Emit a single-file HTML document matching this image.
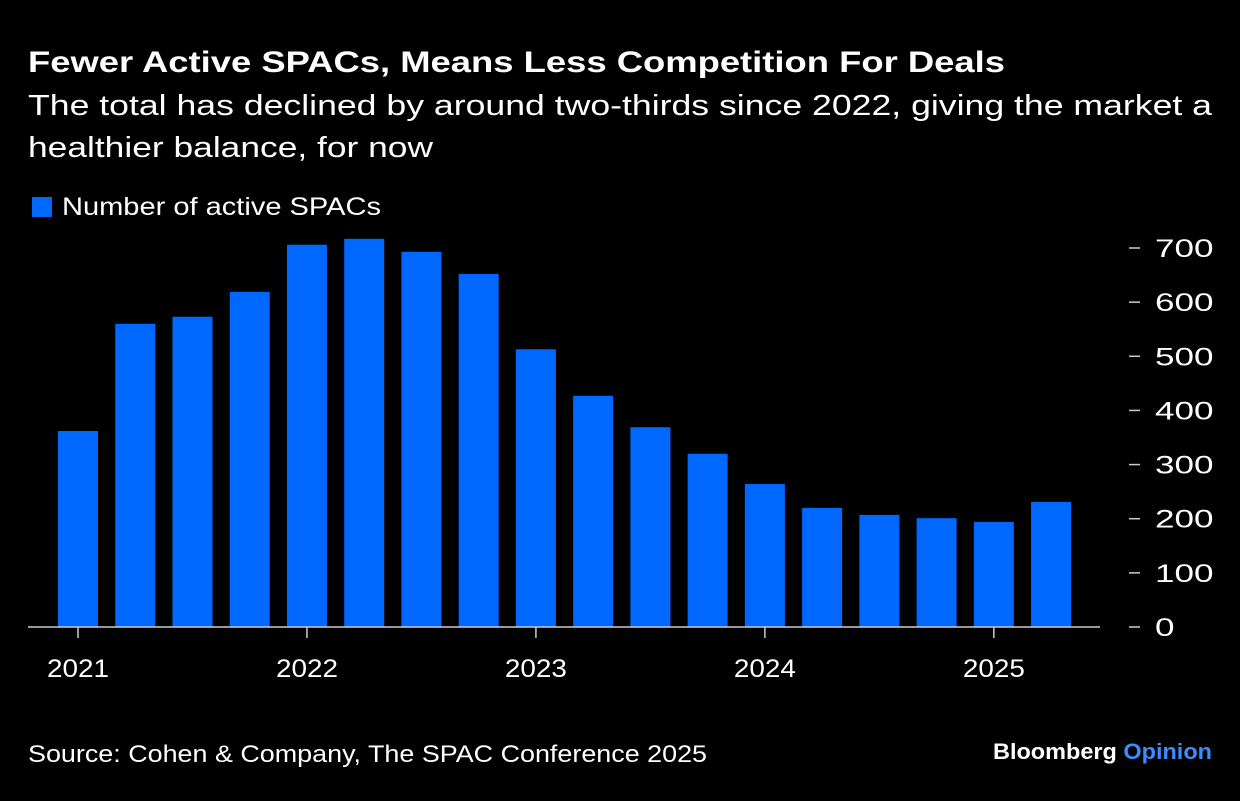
<!DOCTYPE html>
<html><head><meta charset="utf-8"><style>
body{margin:0;background:#000;width:1240px;height:796px;overflow:hidden;font-family:"Liberation Sans",Arial,sans-serif;color:#fff}
svg text{font-family:"Liberation Sans",Arial,sans-serif;fill:#fff}
</style></head><body>
<svg width="1240" height="796">
<text x="28" y="72" font-size="30" font-weight="bold" textLength="977" lengthAdjust="spacingAndGlyphs">Fewer Active SPACs, Means Less Competition For Deals</text>
<text x="28" y="115" font-size="29" textLength="1184" lengthAdjust="spacingAndGlyphs">The total has declined by around two-thirds since 2022, giving the market a</text>
<text x="28" y="157" font-size="29" textLength="405" lengthAdjust="spacingAndGlyphs">healthier balance, for now</text>
<rect x="32" y="197" width="20" height="20" fill="#0068ff"/>
<text x="62" y="215" font-size="25" textLength="319" lengthAdjust="spacingAndGlyphs">Number of active SPACs</text>
<g id="bars"></g>
<line x1="28" y1="627" x2="1100" y2="627" stroke="#ccc" stroke-width="1.5"/>
<g id="xt"></g><g id="yt"></g>
<text x="28" y="762" font-size="24" textLength="679" lengthAdjust="spacingAndGlyphs">Source: Cohen &amp; Company, The SPAC Conference 2025</text>
<text x="993" y="759" font-size="22" font-weight="bold" textLength="219" lengthAdjust="spacingAndGlyphs">Bloomberg <tspan fill="#3b8cff">Opinion</tspan></text>
</svg>
<script>
const values=[362,560,573,619,706,717,693,652,513,427,369,320,264,220,207,201,194,231];
const yTicks=[0,100,200,300,400,500,600,700];
const yearLabels=["2021","2022","2023","2024","2025"];
const NS="http://www.w3.org/2000/svg";
const y0=627,pxPer=379/700,x0=78,step=57.24,bw=40;
const ys=v=>y0-v*pxPer, xs=i=>x0+i*step;
const bars=document.getElementById('bars');
values.forEach((v,i)=>{const r=document.createElementNS(NS,'rect');
r.setAttribute('x',xs(i)-bw/2);r.setAttribute('y',ys(v));r.setAttribute('width',bw);r.setAttribute('height',y0-ys(v));r.setAttribute('fill','#0068ff');


bars.appendChild(r);});
const yt=document.getElementById('yt');
yTicks.forEach(t=>{const l=document.createElementNS(NS,'line');
l.setAttribute('x1',1129);l.setAttribute('x2',1140);l.setAttribute('y1',ys(t));l.setAttribute('y2',ys(t));l.setAttribute('stroke','#ccc');l.setAttribute('stroke-width',1.5);


yt.appendChild(l);
const tx=document.createElementNS(NS,'text');tx.setAttribute('x',1155);tx.setAttribute('y',ys(t)+9);tx.setAttribute('font-size',25);tx.textContent=t;
const s=String(t);tx.setAttribute('textLength',s.length*19.5);tx.setAttribute('lengthAdjust','spacingAndGlyphs');


yt.appendChild(tx);});
const xt=document.getElementById('xt');
yearLabels.forEach((lab,k)=>{const x=xs(k*4);const l=document.createElementNS(NS,'line');
l.setAttribute('x1',x);l.setAttribute('x2',x);l.setAttribute('y1',627);l.setAttribute('y2',638);l.setAttribute('stroke','#ccc');l.setAttribute('stroke-width',1.5);


xt.appendChild(l);
const tx=document.createElementNS(NS,'text');tx.setAttribute('x',x);tx.setAttribute('y',677);tx.setAttribute('font-size',25);tx.setAttribute('text-anchor','middle');tx.textContent=lab;
tx.setAttribute('textLength',62);tx.setAttribute('lengthAdjust','spacingAndGlyphs');


xt.appendChild(tx);});
</script>
</body></html>
